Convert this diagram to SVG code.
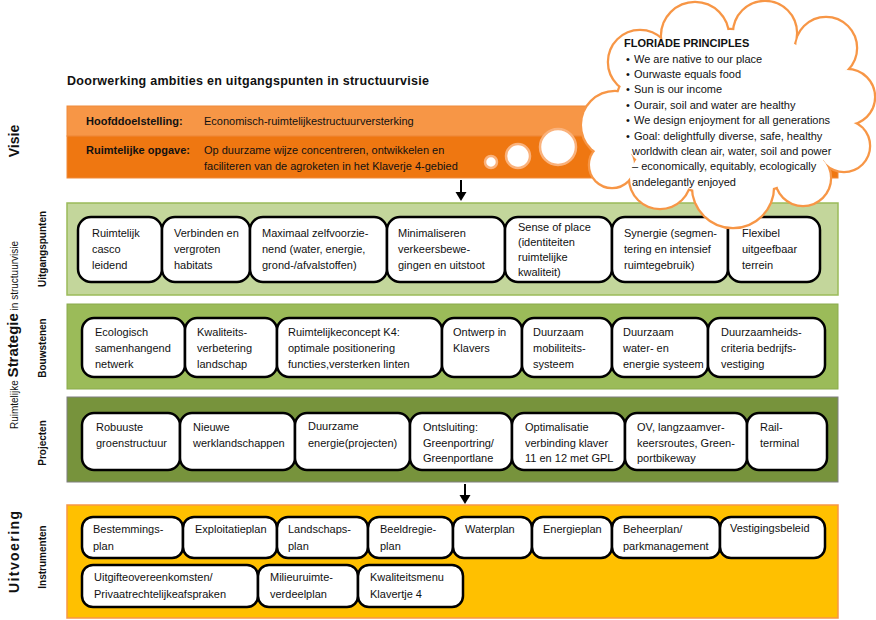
<svg xmlns="http://www.w3.org/2000/svg" width="876" height="620" viewBox="0 0 876 620">
<style>
text{font-family:"Liberation Sans",Arial,sans-serif;fill:#111}
.t{font-size:11px}
.b{font-weight:bold}
.box{fill:#fff;stroke:#000;stroke-width:2.5}
.lbl{font-size:10px;font-weight:bold}
.big{font-size:14px;font-weight:bold}
.bub{fill:#fff;stroke:#FAB27C;stroke-width:2.5}
.arr{stroke:#000;stroke-width:2}
</style>
<defs>
<g id="cloudShapes">
<circle cx="615" cy="125" r="33"/>
<circle cx="640" cy="62" r="31"/>
<circle cx="695" cy="36" r="33"/>
<circle cx="765" cy="33" r="31"/>
<circle cx="826" cy="48" r="30"/>
<circle cx="847" cy="97" r="27"/>
<circle cx="844" cy="146" r="25"/>
<circle cx="803" cy="178" r="27"/>
<circle cx="733" cy="187" r="40"/>
<circle cx="660" cy="178" r="30"/>
<circle cx="612" cy="165" r="22"/>
<ellipse cx="730" cy="112" rx="115" ry="82"/>
</g>
</defs>
<rect width="876" height="620" fill="#fff"/>

<text x="67" y="85" class="b" font-size="12.5" textLength="362" lengthAdjust="spacing">Doorwerking ambities en uitgangspunten in structuurvisie</text>

<!-- side labels -->
<g id="side-labels">
<text class="big" text-anchor="middle" transform="translate(19,141) rotate(-90)">Visie</text>
<text class="lbl" text-anchor="middle" transform="translate(46,249) rotate(-90)">Uitgangspunten</text>
<text class="lbl" text-anchor="middle" transform="translate(46,348) rotate(-90)">Bouwstenen</text>
<text class="lbl" text-anchor="middle" transform="translate(46,443) rotate(-90)">Projecten</text>
<text class="lbl" text-anchor="middle" transform="translate(46,557) rotate(-90)">Instrumenten</text>
<text class="big" text-anchor="middle" textLength="82" transform="translate(19,552) rotate(-90)">Uitvoering</text>
<text text-anchor="middle" transform="translate(18,335) rotate(-90)" font-size="10"><tspan>Ruimtelijke </tspan><tspan font-size="15" font-weight="bold">Strategie</tspan><tspan> in structuurvisie</tspan></text>
</g>

<!-- Visie band -->
<g id="visie">
<rect x="67" y="106" width="771" height="30" fill="#F79646" stroke="#F08A3A" stroke-width="1"/>
<rect x="67" y="136" width="771" height="42" fill="#EF7711" stroke="#F08A3A" stroke-width="1"/>
<text x="86" y="125" class="t b">Hoofddoelstelling:</text>
<text x="204" y="125" class="t">Economisch-ruimtelijkestructuurversterking</text>
<text x="86" y="154" class="t b">Ruimtelijke opgave:</text>
<text x="204" y="154" class="t">Op duurzame wijze concentreren, ontwikkelen en</text>
<text x="204" y="170" class="t">faciliteren van de agroketen in het Klaverje 4-gebied</text>
<circle class="bub" cx="491" cy="162" r="6"/>
<circle class="bub" cx="518" cy="156" r="12"/>
<circle class="bub" cx="558" cy="147" r="18"/>
</g>

<!-- Uitgangspunten -->
<g id="uitgangspunten">
<rect x="67" y="203" width="771" height="92" fill="#C3D69B" stroke="#9BBB59" stroke-width="1.5"/>
<g id="u1"><rect class="box" x="78" y="217" width="84" height="65" rx="13"/><text class="t" x="92"><tspan y="237">Ruimtelijk</tspan><tspan x="92" y="253">casco</tspan><tspan x="92" y="269">leidend</tspan></text></g>
<g id="u2"><rect class="box" x="162" y="217" width="88" height="65" rx="13"/><text class="t" x="174"><tspan y="237">Verbinden en</tspan><tspan x="174" y="253">vergroten</tspan><tspan x="174" y="269">habitats</tspan></text></g>
<g id="u3"><rect class="box" x="250" y="217" width="137" height="65" rx="13"/><text class="t" x="262"><tspan y="237">Maximaal zelfvoorzie-</tspan><tspan x="262" y="253">nend (water, energie,</tspan><tspan x="262" y="269">grond-/afvalstoffen)</tspan></text></g>
<g id="u4"><rect class="box" x="387" y="217" width="118" height="65" rx="13"/><text class="t" x="398"><tspan y="237">Minimaliseren</tspan><tspan x="398" y="253">verkeersbewe-</tspan><tspan x="398" y="269">gingen en uitstoot</tspan></text></g>
<g id="u5"><rect class="box" x="505" y="217" width="107" height="65" rx="13"/><text class="t" x="518"><tspan y="231">Sense of place</tspan><tspan x="518" y="246">(identiteiten</tspan><tspan x="518" y="261">ruimtelijke</tspan><tspan x="518" y="276">kwaliteit)</tspan></text></g>
<g id="u6"><rect class="box" x="612" y="217" width="116" height="65" rx="13"/><text class="t" x="624"><tspan y="237">Synergie (segmen-</tspan><tspan x="624" y="253">tering en intensief</tspan><tspan x="624" y="269">ruimtegebruik)</tspan></text></g>
<g id="u7"><rect class="box" x="728" y="217" width="92" height="65" rx="13"/><text class="t" x="742"><tspan y="237">Flexibel</tspan><tspan x="742" y="253">uitgeefbaar</tspan><tspan x="742" y="269">terrein</tspan></text></g>
</g>

<!-- Bouwstenen -->
<g id="bouwstenen">
<rect x="67" y="304" width="771" height="85" fill="#9BBB59" stroke="#8AAA4C" stroke-width="1"/>
<g id="b1"><rect class="box" x="82" y="318" width="103" height="59" rx="12"/><text class="t" x="95"><tspan y="336">Ecologisch</tspan><tspan x="95" y="352">samenhangend</tspan><tspan x="95" y="368">netwerk</tspan></text></g>
<g id="b2"><rect class="box" x="185" y="318" width="92" height="59" rx="12"/><text class="t" x="197"><tspan y="336">Kwaliteits-</tspan><tspan x="197" y="352">verbetering</tspan><tspan x="197" y="368">landschap</tspan></text></g>
<g id="b3"><rect class="box" x="277" y="318" width="165" height="59" rx="12"/><text class="t" x="288"><tspan y="336">Ruimtelijkeconcept K4:</tspan><tspan x="288" y="352">optimale positionering</tspan><tspan x="288" y="368">functies,versterken  linten</tspan></text></g>
<g id="b4"><rect class="box" x="442" y="318" width="80" height="59" rx="12"/><text class="t" x="453"><tspan y="336">Ontwerp in</tspan><tspan x="453" y="352">Klavers</tspan></text></g>
<g id="b5"><rect class="box" x="522" y="318" width="90" height="59" rx="12"/><text class="t" x="533"><tspan y="336">Duurzaam</tspan><tspan x="533" y="352">mobiliteits-</tspan><tspan x="533" y="368">systeem</tspan></text></g>
<g id="b6"><rect class="box" x="612" y="318" width="96" height="59" rx="12"/><text class="t" x="623"><tspan y="336">Duurzaam</tspan><tspan x="623" y="352">water- en</tspan><tspan x="623" y="368">energie systeem</tspan></text></g>
<g id="b7"><rect class="box" x="708" y="318" width="117" height="59" rx="12"/><text class="t" x="721"><tspan y="336">Duurzaamheids-</tspan><tspan x="721" y="352">criteria bedrijfs-</tspan><tspan x="721" y="368">vestiging</tspan></text></g>
</g>

<!-- Projecten -->
<g id="projecten">
<rect x="67" y="397" width="771" height="85" fill="#77933C" stroke="#7F7F7F" stroke-width="1"/>
<g id="p1"><rect class="box" x="82" y="413" width="98" height="57" rx="12"/><text class="t" x="96"><tspan y="431">Robuuste</tspan><tspan x="96" y="447">groenstructuur</tspan></text></g>
<g id="p2"><rect class="box" x="180" y="413" width="115" height="57" rx="12"/><text class="t" x="193"><tspan y="431">Nieuwe</tspan><tspan x="193" y="447">werklandschappen</tspan></text></g>
<g id="p3"><rect class="box" x="295" y="413" width="115" height="57" rx="12"/><text class="t" x="308"><tspan y="430">Duurzame</tspan><tspan x="308" y="447">energie(projecten)</tspan></text></g>
<g id="p4"><rect class="box" x="410" y="413" width="102" height="57" rx="12"/><text class="t" x="423"><tspan y="431">Ontsluiting:</tspan><tspan x="423" y="447">Greenportring/</tspan><tspan x="423" y="462">Greenportlane</tspan></text></g>
<g id="p5"><rect class="box" x="512" y="413" width="113" height="57" rx="12"/><text class="t" x="525"><tspan y="431">Optimalisatie</tspan><tspan x="525" y="447">verbinding klaver</tspan><tspan x="525" y="462">11 en 12 met GPL</tspan></text></g>
<g id="p6"><rect class="box" x="625" y="413" width="122" height="57" rx="12"/><text class="t" x="637"><tspan y="431">OV, langzaamver-</tspan><tspan x="637" y="447">keersroutes, Green-</tspan><tspan x="637" y="462">portbikeway</tspan></text></g>
<g id="p7"><rect class="box" x="747" y="413" width="80" height="57" rx="12"/><text class="t" x="760"><tspan y="431">Rail-</tspan><tspan x="760" y="447">terminal</tspan></text></g>
</g>

<!-- Uitvoering -->
<g id="uitvoering">
<rect x="67" y="505" width="771" height="113" fill="#FFC000" stroke="#F79646" stroke-width="1.5"/>
<g id="i1"><rect class="box" x="82" y="517" width="101" height="41" rx="11"/><text class="t" x="93"><tspan y="533">Bestemmings-</tspan><tspan x="93" y="550">plan</tspan></text></g>
<g id="i2"><rect class="box" x="183" y="517" width="94" height="41" rx="11"/><text class="t" x="195" y="533">Exploitatieplan</text></g>
<g id="i3"><rect class="box" x="277" y="517" width="91" height="41" rx="11"/><text class="t" x="288"><tspan y="533">Landschaps-</tspan><tspan x="288" y="550">plan</tspan></text></g>
<g id="i4"><rect class="box" x="368" y="517" width="85" height="41" rx="11"/><text class="t" x="380"><tspan y="533">Beeldregie-</tspan><tspan x="380" y="550">plan</tspan></text></g>
<g id="i5"><rect class="box" x="453" y="517" width="79" height="41" rx="11"/><text class="t" x="465" y="533">Waterplan</text></g>
<g id="i6"><rect class="box" x="532" y="517" width="80" height="41" rx="11"/><text class="t" x="543" y="533">Energieplan</text></g>
<g id="i7"><rect class="box" x="612" y="517" width="108" height="41" rx="11"/><text class="t" x="623"><tspan y="533">Beheerplan/</tspan><tspan x="623" y="550">parkmanagement</tspan></text></g>
<g id="i8"><rect class="box" x="720" y="517" width="105" height="41" rx="11"/><text class="t" x="730" y="532">Vestigingsbeleid</text></g>
<g id="i9"><rect class="box" x="82" y="565" width="176" height="42" rx="11"/><text class="t" x="94"><tspan y="581">Uitgifteovereenkomsten/</tspan><tspan x="94" y="598">Privaatrechtelijkeafspraken</tspan></text></g>
<g id="i10"><rect class="box" x="258" y="565" width="100" height="42" rx="11"/><text class="t" x="270"><tspan y="581">Milieuruimte-</tspan><tspan x="270" y="598">verdeelplan</tspan></text></g>
<g id="i11"><rect class="box" x="358" y="565" width="105" height="42" rx="11"/><text class="t" x="370"><tspan y="581">Kwaliteitsmenu</tspan><tspan x="370" y="598">Klavertje 4</tspan></text></g>
</g>

<!-- connectors -->
<g id="connectors">
<line class="arr" x1="461" y1="180" x2="461" y2="194"/>
<path d="M455.5 192 L466.5 192 L461 201 Z" fill="#000"/>
<line class="arr" x1="465" y1="484" x2="465" y2="497"/>
<path d="M459.5 495 L470.5 495 L465 504 Z" fill="#000"/>
</g>

<!-- cloud -->
<g id="cloud">
<use href="#cloudShapes" fill="#F79646" stroke="#F79646" stroke-width="4.5"/>
<use href="#cloudShapes" fill="#fff"/>
<text x="624" y="47" class="t b">FLORIADE PRINCIPLES</text>
<g class="t">
<text x="626" y="63" class="t">•</text><text x="634" y="63" class="t">We are native to our place</text>
<text x="626" y="78" class="t">•</text><text x="634" y="78" class="t">Ourwaste equals food</text>
<text x="626" y="93" class="t">•</text><text x="634" y="93" class="t">Sun is our income</text>
<text x="626" y="109" class="t">•</text><text x="634" y="109" class="t">Ourair, soil and water are healthy</text>
<text x="626" y="124" class="t">•</text><text x="634" y="124" class="t">We design enjoyment for all generations</text>
<text x="626" y="140" class="t">•</text><text x="634" y="140" class="t">Goal: delightfully diverse, safe, healthy</text>
<text x="632" y="155" class="t">worldwith clean air, water, soil and power</text>
<text x="632" y="170" class="t">– economically, equitably, ecologically</text>
<text x="632" y="186" class="t">andelegantly enjoyed</text>
</g>
</g>
</svg>
